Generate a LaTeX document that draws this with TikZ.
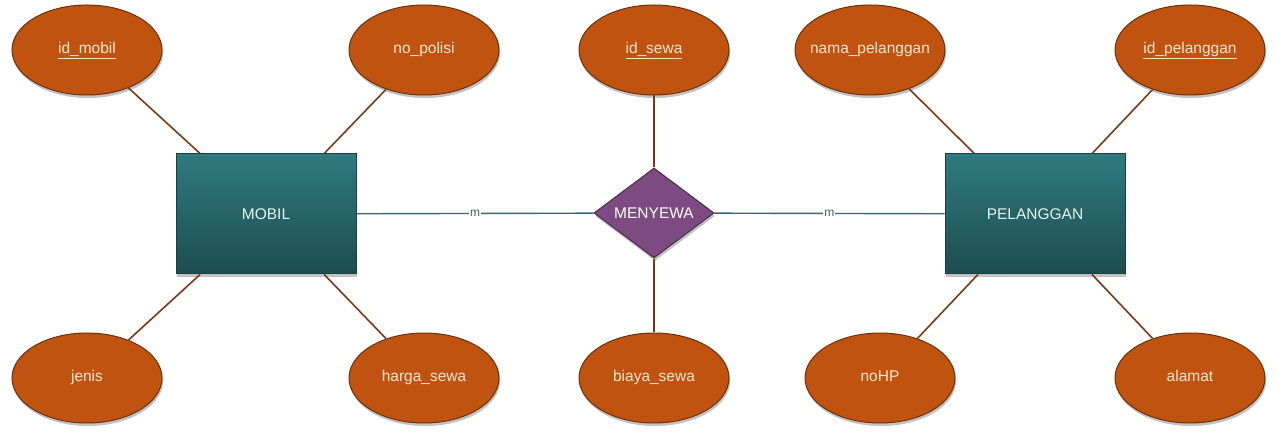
\documentclass[tikz,border=0pt]{standalone}
\usepackage{fontspec}
\setmainfont{Liberation Sans}
\usetikzlibrary{shapes.geometric,shadows}
\definecolor{attrfill}{HTML}{C0530F}
\definecolor{attrdraw}{HTML}{6E3008}
\definecolor{attrtext}{HTML}{FBE6D4}
\definecolor{enttop}{HTML}{2E7A7E}
\definecolor{entbot}{HTML}{1E4D50}
\definecolor{entdraw}{HTML}{173E41}
\definecolor{enttext}{HTML}{E6F3F3}
\definecolor{relfill}{HTML}{7E4A82}
\definecolor{reldraw}{HTML}{4A2A4E}
\definecolor{attrline}{HTML}{7A3A14}
\definecolor{relline}{HTML}{3E6378}
\newcommand{\keyattr}[1]{\underline{#1}}
\tikzset{
  attr/.style={ellipse, draw=attrdraw, line width=1pt, fill=attrfill,
    minimum width=150pt, minimum height=90pt, inner xsep=-20pt, inner ysep=0pt,
    text height=11pt, text depth=3pt,
    text=attrtext, font=\fontsize{15.5}{18}\selectfont,
    drop shadow={shadow xshift=1pt, shadow yshift=-3pt, opacity=0.4, fill=black!60}},
  entity/.style={rectangle, draw=entdraw, line width=1pt,
    top color=enttop, bottom color=entbot,
    minimum width=180pt, minimum height=120pt, inner sep=0pt,
    text=enttext, font=\fontsize{15.5}{18}\selectfont,
    drop shadow={shadow xshift=1pt, shadow yshift=-3pt, opacity=0.4, fill=black!60}},
  relation/.style={diamond, draw=reldraw, line width=1pt, fill=relfill,
    minimum width=120pt, minimum height=90pt, inner sep=0pt, aspect=1.33,
    text=white, font=\fontsize{15.5}{18}\selectfont,
    drop shadow={shadow xshift=1pt, shadow yshift=-3pt, opacity=0.4, fill=black!60}},
  aline/.style={draw=attrline, line width=1.6pt},
  rline/.style={draw=relline, line width=1.4pt},
  card/.style={fill=white, text=relline, inner xsep=1pt, inner ysep=0pt, font=\fontsize{12}{12}\selectfont}
}
\begin{document}
\begin{tikzpicture}[x=1pt,y=-1pt]
\useasboundingbox (0,0) rectangle (1278,438);
% entities and relation
\node[entity] (mobil) at (266,214) {MOBIL};
\node[entity] (pel) at (1035,214) {PELANGGAN};
\node[relation] (sewa) at (654,213) {MENYEWA};
% attributes
\node[attr] (idmobil) at (87,50) {\keyattr{id\_mobil}};
\node[attr] (nopol) at (424,50) {no\_polisi};
\node[attr] (idsewa) at (654,50) {\keyattr{id\_sewa}};
\node[attr] (nama) at (870,50) {nama\_pelanggan};
\node[attr] (idpel) at (1190,50) {\keyattr{id\_pelanggan}};
\node[attr] (jenis) at (87,378) {jenis};
\node[attr] (harga) at (424,378) {harga\_sewa};
\node[attr] (biaya) at (654,378) {biaya\_sewa};
\node[attr] (nohp) at (880,378) {noHP};
\node[attr] (alamat) at (1190,378) {alamat};
% connectors
\draw[aline] (idmobil) -- (mobil);
\draw[aline] (nopol) -- (mobil);
\draw[aline] (jenis) -- (mobil);
\draw[aline] (harga) -- (mobil);
\draw[aline] (idsewa) -- (sewa);
\draw[aline] (biaya) -- (sewa);
\draw[aline] (nama) -- (pel);
\draw[aline] (idpel) -- (pel);
\draw[aline] (nohp) -- (pel);
\draw[aline] (alamat) -- (pel);
\draw[rline] (mobil) -- node[card] {m} (sewa);
\draw[rline] (sewa) -- node[card] {m} (pel);
\end{tikzpicture}
\end{document}
